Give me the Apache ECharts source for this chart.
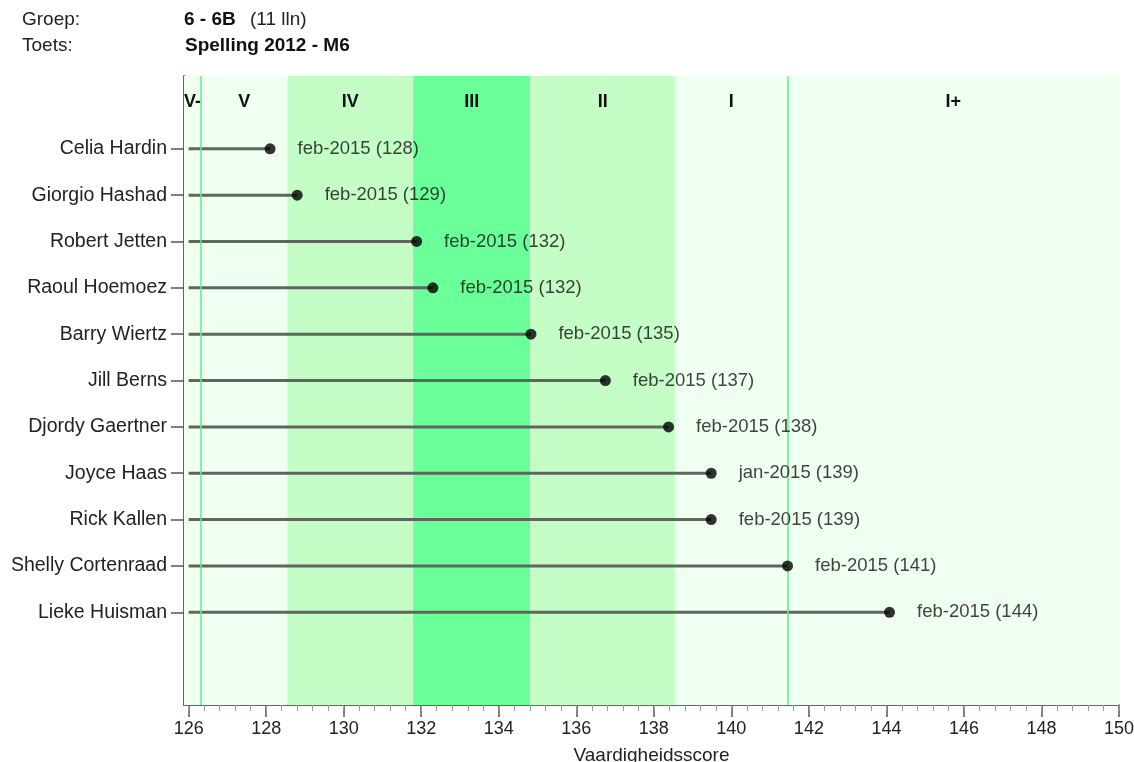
<!DOCTYPE html>
<html>
<head>
<meta charset="utf-8">
<script src="https://cdn.jsdelivr.net/npm/echarts@6/dist/echarts.min.js"></script>
<style>
html,body{margin:0;padding:0;background:#fff;}
#c{width:1134px;height:762px;}
</style>
</head>
<body>
<div id="c"></div>
<script>
const names = ['Celia Hardin','Giorgio Hashad','Robert Jetten','Raoul Hoemoez','Barry Wiertz','Jill Berns','Djordy Gaertner','Joyce Haas','Rick Kallen','Shelly Cortenraad','Lieke Huisman'];
const scores = [128.1, 128.8, 131.88, 132.3, 134.83, 136.75, 138.38, 139.48, 139.48, 141.45, 144.08];
const dates = ['feb-2015','feb-2015','feb-2015','feb-2015','feb-2015','feb-2015','feb-2015','jan-2015','feb-2015','feb-2015','feb-2015'];
const shownScores = [128,129,132,132,135,137,138,139,139,141,144];
const bandLabels = ['V-','V','IV','III','II','I','I+'];
const bandEdges = [125.88, 126.32, 128.55, 131.79, 134.81, 138.55, 141.45, 150];
const boundaryLines = [126.32, 141.45];
const xTickLabels = [126,128,130,132,134,136,138,140,142,144,146,148,150];
const xMin = 125.88, xMax = 150;
const lineStart = 126;

const bandColors = ['#effff0','#effff0','#c4fdc6','#6bff99','#c4fdc6','#effff0','#effff0'];

const minorTicks = [];
for (let v = 126; v <= 150.0001; v += 0.4) minorTicks.push(Math.round(v*10)/10);

const rows = names.map((n,i)=>i+1);

const chart = echarts.init(document.getElementById('c'), null, {renderer:'canvas'});
const font = 'Liberation Sans, Arial, sans-serif';

const option = {
  animation: false,
  textStyle: {fontFamily: font},
  grid: {left: 184, right: 15, top: 76, bottom: 57, containLabel: false, outerBoundsMode: 'none'},
  xAxis: [{
    type: 'value', min: xMin, max: xMax,
    name: 'Vaardigheidsscore', nameLocation: 'middle', nameGap: 41,
    nameTextStyle: {fontSize: 19, color: '#222', fontFamily: font},
    axisLine: {show: true, onZero: false, lineStyle: {color: '#666', width: 2}},
    axisTick: {show: true, length: 12, customValues: xTickLabels, lineStyle: {color: '#555', width: 1.5}},
    axisLabel: {customValues: xTickLabels, fontSize: 18, color: '#222', margin: 15, fontFamily: font},
    splitLine: {show: false}
  },{
    type: 'value', min: xMin, max: xMax, position: 'bottom',
    axisLine: {show: false, onZero: false},
    axisTick: {show: true, length: 6, customValues: minorTicks, lineStyle: {color: '#999', width: 1}},
    axisLabel: {show: false},
    splitLine: {show: false}
  }],
  yAxis: {
    type: 'value', min: -0.57, max: 13, inverse: true,
    axisLine: {show: true, onZero: false, lineStyle: {color: '#666', width: 2}},
    axisTick: {show: true, length: 13, customValues: rows, lineStyle: {color: '#555', width: 1.5}},
    axisLabel: {customValues: rows, formatter: v => names[Math.round(v)-1] || '', fontSize: 19.5, color: '#222', margin: 17, fontFamily: font},
    splitLine: {show: false}
  },
  graphic: [
    {type:'text', x: 22, y: 20, style:{text:'Groep:', font:'19px '+font, fill:'#222', verticalAlign:'middle'}},
    {type:'text', x: 22, y: 46, style:{text:'Toets:', font:'19px '+font, fill:'#222', verticalAlign:'middle'}},
    {type:'text', x: 184, y: 20, style:{text:'6 - 6B', font:'bold 19px '+font, fill:'#111', verticalAlign:'middle'}},
    {type:'text', x: 250, y: 20, style:{text:'(11 lln)', font:'19px '+font, fill:'#222', verticalAlign:'middle'}},
    {type:'text', x: 185, y: 46, style:{text:'Spelling 2012 - M6', font:'bold 19px '+font, fill:'#111', verticalAlign:'middle'}}
  ],
  series: [
    {
      type: 'line', z: 1, silent: true, symbol: 'none',
      data: [],
      markArea: {
        silent: true,
        label: {show: true, position: 'insideTop', distance: 17, fontSize: 18, fontWeight: 'bold', color: '#111', fontFamily: font},
        data: bandLabels.map((b,i)=>[{name: b, xAxis: bandEdges[i], itemStyle:{color: bandColors[i]}}, {xAxis: bandEdges[i+1]}])
      },
      markLine: {
        silent: true, symbol: ['none','none'],
        label: {show: false},
        lineStyle: {color: '#5fef85', width: 1.5, type: 'solid'},
        data: boundaryLines.map(v=>({xAxis: v}))
      }
    },
    {
      type: 'custom', z: 4, silent: true,
      renderItem: (params, api) => {
        const y = api.value(1);
        const s = api.coord([api.value(0), y]);
        const e = api.coord([api.value(2), y]);
        return {type:'line', shape:{x1:s[0], y1:s[1], x2:e[0], y2:e[1]}, style:{stroke:'#5e665e', lineWidth: 3}};
      },
      encode: {x: [0,2], y: 1},
      data: scores.map((s,i)=>[lineStart, i+1, s])
    },
    {
      type: 'scatter', z: 5, silent: true, symbol: 'circle', symbolSize: 11,
      itemStyle: {color: '#000'},
      label: {show: true, position: 'right', distance: 22, formatter: '{b}', fontSize: 18.5, color: '#111', fontFamily: font},
      data: scores.map((s,i)=>({name: dates[i]+' ('+shownScores[i]+')', value: [s, i+1]}))
    }
  ]
};
chart.setOption(option);
</script>
</body>
</html>
